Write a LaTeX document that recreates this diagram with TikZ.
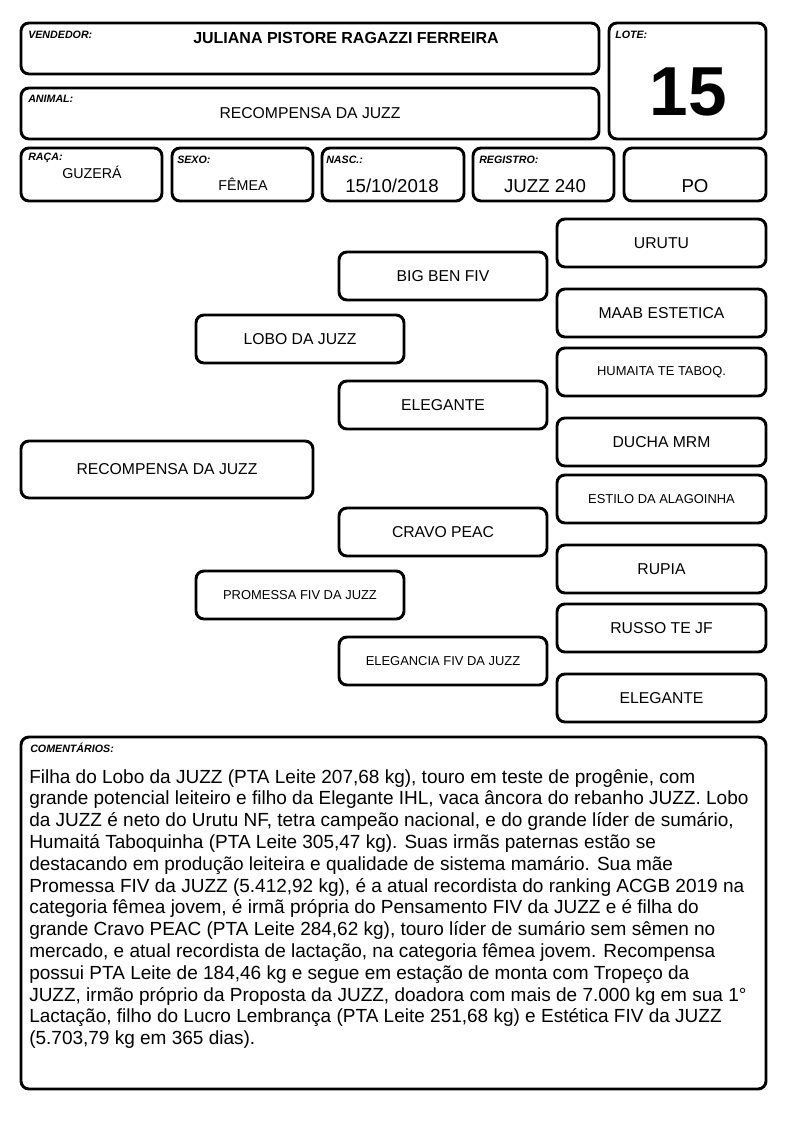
\documentclass[tikz,border=0pt]{standalone}
\usepackage{fontspec}
\setmainfont{Liberation Sans}
\tikzset{
 box/.style={draw, line width=2.2pt, rounded corners=6pt, inner sep=0pt, align=center},
 lab/.style={font=\fontsize{8}{9}\selectfont\bfseries\itshape, anchor=west, inner sep=0pt},
 med/.style={font=\fontsize{11.8}{14}\selectfont},
 sml/.style={font=\fontsize{9.7}{12}\selectfont},
 val/.style={font=\fontsize{10.7}{12}\selectfont, inner sep=0pt},
 bigval/.style={font=\fontsize{14}{16}\selectfont, inner sep=0pt},
}
\newcommand\pbox[7][]{\node[box,#1,minimum width={(#5-#3)*0.75pt},minimum height={(#6-#4)*0.75pt}] (#2) at ({(#3+#5)/2},{(#4+#6)/2}) {#7};}
\begin{document}
\begin{tikzpicture}[x=0.75pt,y=-0.75pt]
\useasboundingbox (0,0) rectangle (794,1123);
% header
\pbox{vend}{21}{23}{599}{74}{}
\pbox{lote}{609}{23}{766}{139}{}
\pbox{anim}{21}{88}{599}{139}{}
\pbox{raca}{21}{148}{162}{201}{}
\pbox{sexo}{172}{148}{313}{201}{}
\pbox{nasc}{322}{148}{464}{201}{}
\pbox{reg}{473}{148}{614}{201}{}
\pbox{po}{624}{148}{766}{201}{}
\node[lab] (lvend) at (28,35) {VENDEDOR:};
\node[lab] (llote) at (615,35) {LOTE:};
\node[lab] (lanim) at (28,99) {ANIMAL:};
\node[lab] (lraca) at (28,158) {RAÇA:};
\node[lab] (lsexo) at (177,160) {SEXO:};
\node[lab] (lnasc) at (326,160) {NASC.:};
\node[lab] (lreg) at (479,160) {REGISTRO:};
\node[font=\fontsize{12}{14}\selectfont\bfseries, inner sep=0pt] (tvend) at (346,38) {JULIANA PISTORE RAGAZZI FERREIRA};
\node[font=\fontsize{52}{56}\selectfont\bfseries, inner sep=0pt] (tlote) at (688,92) {15};
\node[med, inner sep=0pt] (tanim) at (310,113) {RECOMPENSA DA JUZZ};
\node[val] (traca) at (92,172) {GUZERÁ};
\node[val] (tsexo) at (243,184) {FÊMEA};
\node[bigval] (tnasc) at (392,186) {15/10/2018};
\node[bigval] (treg) at (545,186) {JUZZ 240};
\node[bigval] (tpo) at (695,186) {PO};
% pedigree
\pbox[med]{p0}{21}{441}{313}{498}{RECOMPENSA DA JUZZ}
\pbox[med]{p1}{196}{315}{404}{363}{LOBO DA JUZZ}
\pbox[sml]{p2}{196}{571}{404}{619}{PROMESSA FIV DA JUZZ}
\pbox[med]{p3}{339}{252}{547}{300}{BIG BEN FIV}
\pbox[med]{p4}{339}{381}{547}{429}{ELEGANTE}
\pbox[med]{p5}{339}{508}{547}{556}{CRAVO PEAC}
\pbox[sml]{p6}{339}{637}{547}{685}{ELEGANCIA FIV DA JUZZ}
\pbox[med]{p7}{557}{219}{766}{267}{URUTU}
\pbox[med]{p8}{557}{289}{766}{337}{MAAB ESTETICA}
\pbox[sml]{p9}{557}{348}{766}{396}{HUMAITA TE TABOQ.}
\pbox[med]{p10}{557}{418}{766}{466}{DUCHA MRM}
\pbox[sml]{p11}{557}{475}{766}{523}{ESTILO DA ALAGOINHA}
\pbox[med]{p12}{557}{545}{766}{593}{RUPIA}
\pbox[med]{p13}{557}{604}{766}{652}{RUSSO TE JF}
\pbox[med]{p14}{557}{674}{766}{722}{ELEGANTE}
% comments
\pbox{com}{21}{737}{766}{1089}{}
\node[lab] (lcom) at (30,748) {COMENTÁRIOS:};
\node[anchor=north west, inner sep=0pt, align=left, font=\fontsize{14.25}{16.35}\selectfont] (tcom) at (29,769) {%
Filha do Lobo da JUZZ (PTA Leite 207,68 kg), touro em teste de progênie, com\\
grande potencial leiteiro e filho da Elegante IHL, vaca âncora do rebanho JUZZ. Lobo\\
da JUZZ é neto do Urutu NF, tetra campeão nacional, e do grande líder de sumário,\\
Humaitá Taboquinha (PTA Leite 305,47 kg). Suas irmãs paternas estão se\\
destacando em produção leiteira e qualidade de sistema mamário. Sua mãe\\
Promessa FIV da JUZZ (5.412,92 kg), é a atual recordista do ranking ACGB 2019 na\\
categoria fêmea jovem, é irmã própria do Pensamento FIV da JUZZ e é filha do\\
grande Cravo PEAC (PTA Leite 284,62 kg), touro líder de sumário sem sêmen no\\
mercado, e atual recordista de lactação, na categoria fêmea jovem. Recompensa\\
possui PTA Leite de 184,46 kg e segue em estação de monta com Tropeço da\\
JUZZ, irmão próprio da Proposta da JUZZ, doadora com mais de 7.000 kg em sua 1°\\
Lactação, filho do Lucro Lembrança (PTA Leite 251,68 kg) e Estética FIV da JUZZ\\
(5.703,79 kg em 365 dias).};
\end{tikzpicture}
\end{document}
